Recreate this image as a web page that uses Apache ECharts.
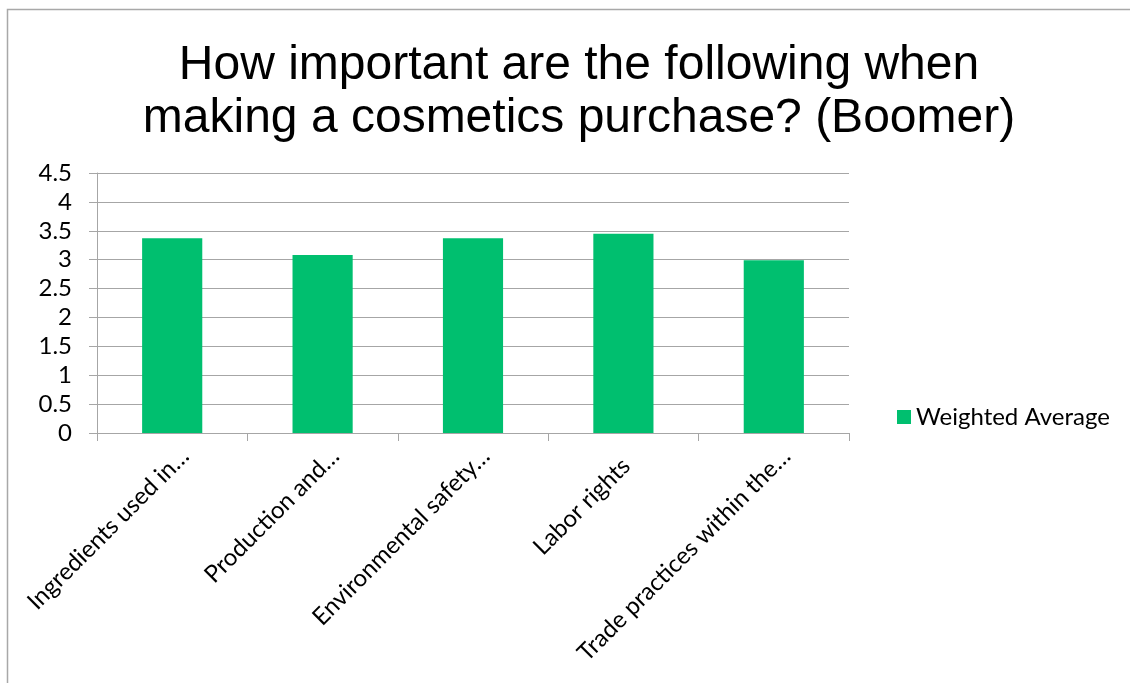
<!DOCTYPE html>
<html>
<head>
<meta charset="utf-8">
<script src="https://cdn.jsdelivr.net/npm/echarts@6/dist/echarts.min.js"></script>
<style>
  html, body { margin: 0; padding: 0; background: #ffffff; }
  #chart { width: 1130px; height: 683px; }
</style>
</head>
<body>
<div id="chart"></div>
<script>
// Survey answers, Boomer respondents
const categories = [
  'Ingredients used in\u2026',
  'Production and\u2026',
  'Environmental safety\u2026',
  'Labor rights',
  'Trade practices within the\u2026'
];
const weightedAverage = [3.37, 3.08, 3.37, 3.45, 2.99];
const seriesName = 'Weighted Average';
const titleText = 'How important are the following when\nmaking a cosmetics purchase? (Boomer)';

const labelFont = 'Lato, "Open Sans", sans-serif';
const gridColor = '#a6a6a6';

// Truncated labels (ending in an ellipsis) run a little further toward the tick
const categoryItems = categories.map(function (name) {
  const truncated = name.charAt(name.length - 1) === '\u2026';
  return { value: name, textStyle: { padding: [0, truncated ? -18 : -4, 0, 0] } };
});

const chart = echarts.init(document.getElementById('chart'), null, { renderer: 'canvas' });
chart.setOption({
  backgroundColor: '#ffffff',
  animation: false,
  graphic: [{
    type: 'rect',
    shape: { x: 7.5, y: 9.5, width: 1400, height: 1000 },
    style: { fill: 'none', stroke: '#a8a8a8', lineWidth: 1.5 },
    silent: true
  }],
  title: {
    text: titleText,
    left: 574,
    textAlign: 'center',
    top: 34,
    textStyle: {
      fontFamily: '"Liberation Sans", Arial, sans-serif',
      fontSize: 48,
      fontWeight: 'normal',
      color: '#000000',
      lineHeight: 53
    }
  },
  legend: {
    data: [seriesName],
    orient: 'vertical',
    left: 892,
    top: 400,
    itemWidth: 14,
    itemHeight: 14,
    itemGap: 8,
    icon: 'rect',
    textStyle: { fontFamily: labelFont, fontSize: 24, color: '#000000' }
  },
  grid: { left: 97, right: 281, top: 173, bottom: 250, containLabel: false },
  xAxis: {
    type: 'category',
    data: categoryItems,
    axisLine: { lineStyle: { color: gridColor, width: 1 } },
    axisTick: { show: true, length: 8, alignWithLabel: false, lineStyle: { color: gridColor } },
    axisLabel: {
      rotate: 45,
      interval: 0,
      margin: 32,
      fontFamily: labelFont,
      fontSize: 24,
      color: '#000000'
    }
  },
  yAxis: {
    type: 'value',
    min: 0,
    max: 4.5,
    interval: 0.5,
    axisLine: { show: true, lineStyle: { color: gridColor, width: 1 } },
    axisTick: { show: true, length: 8, lineStyle: { color: gridColor } },
    splitLine: { show: true, lineStyle: { color: gridColor, width: 1 } },
    axisLabel: {
      margin: 25,
      fontFamily: labelFont,
      fontSize: 24,
      color: '#000000'
    }
  },
  series: [{
    name: seriesName,
    type: 'bar',
    data: weightedAverage,
    barWidth: '40%',
    itemStyle: { color: '#00bf6f' }
  }]
});
</script>
</body>
</html>
